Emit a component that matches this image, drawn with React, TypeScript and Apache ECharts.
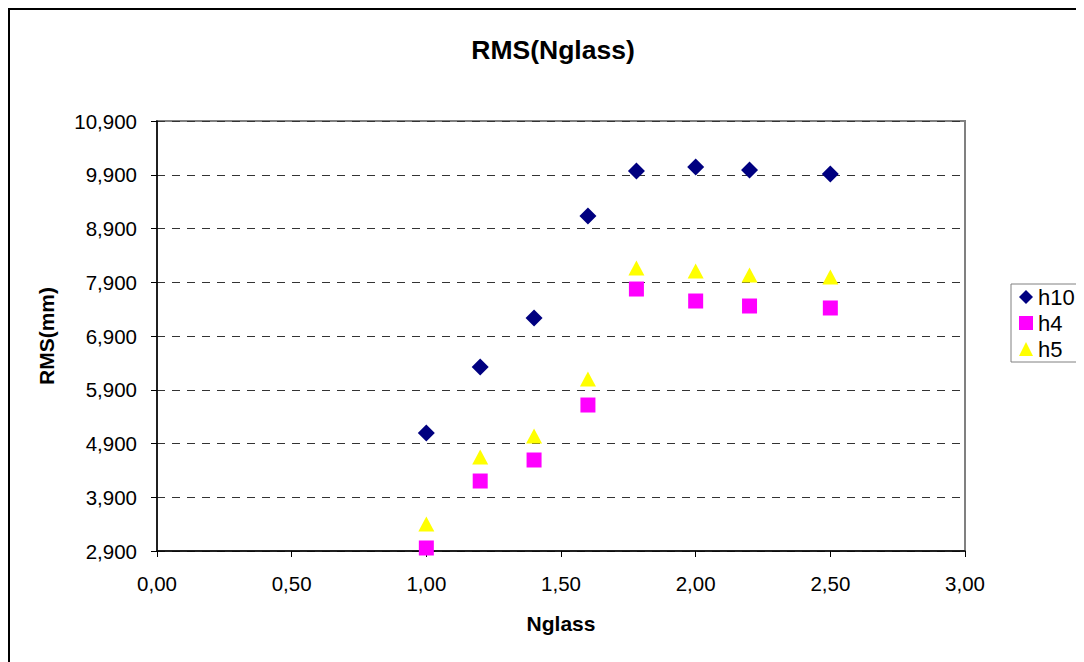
import React, { useEffect, useRef } from "react";
import * as echarts from "echarts";

const xValues = [1.0, 1.2, 1.4, 1.6, 1.78, 2.0, 2.2, 2.5];
const h10 = [5095, 6323, 7235, 9133, 9970, 10044, 9988, 9914];
const h4 = [2956, 4202, 4593, 5616, 7774, 7551, 7458, 7421];
const h5 = [3402, 4649, 5040, 6100, 8165, 8109, 8035, 7998];
const seriesNames = ["h10", "h4", "h5"];
const titleText = "RMS(Nglass)";
const xName = "Nglass";
const yName = "RMS(mm)";

const pair = (ys: number[]) => xValues.map((x, i) => [x, ys[i]]);

const fmtY = (v: number) => {
  const th = Math.floor(v / 1000);
  const rest = String(Math.round(v % 1000)).padStart(3, "0");
  return th > 0 ? `${th},${rest}` : String(Math.round(v));
};
const fmtX = (v: number) => v.toFixed(2).replace(".", ",");

export default function App() {
  const ref = useRef<HTMLDivElement>(null);
  useEffect(() => {
    if (!ref.current) return;
    const chart = echarts.init(ref.current, undefined, { renderer: "svg" });
    const font = "'Liberation Sans', Arial, sans-serif";
    chart.setOption({
      animation: false,
      backgroundColor: "#ffffff",
      textStyle: { fontFamily: font },
      title: {
        text: titleText,
        left: 540,
        top: 23,
        textAlign: "center",
        textStyle: { fontFamily: font, fontSize: 26.5, fontWeight: "bold", color: "#000" },
      },
      graphic: [
        {
          type: "polyline",
          shape: { points: [[1, 700], [1, 1], [1100, 1]] },
          style: { stroke: "#000", lineWidth: 2, fill: "none" },
          silent: true,
        },
      ],
      grid: {
        left: 149,
        top: 113,
        width: 808,
        height: 430,
        show: true,
        borderColor: "#808080",
        borderWidth: 2,
        backgroundColor: "transparent",
      },
      legend: {
        orient: "vertical",
        left: 1003,
        top: 276,
        padding: [2, 20, 2, 8],
        itemGap: 4,
        itemWidth: 14,
        itemHeight: 14,
        borderColor: "#808080",
        borderWidth: 1,
        backgroundColor: "#fff",
        textStyle: { fontFamily: font, fontSize: 22, color: "#000", lineHeight: 21 },
        data: seriesNames,
      },
      xAxis: {
        type: "value",
        min: 0,
        max: 3,
        interval: 0.5,
        name: xName,
        nameLocation: "middle",
        nameGap: 62,
        nameTextStyle: { fontFamily: font, fontSize: 21, fontWeight: "bold", color: "#000" },
        axisLine: { show: true, lineStyle: { color: "#000", width: 1.5 } },
        axisTick: { show: true, length: 6, lineStyle: { color: "#000" } },
        axisLabel: { formatter: fmtX, fontFamily: font, fontSize: 20.5, color: "#000", margin: 22 },
        splitLine: { show: false },
      },
      yAxis: {
        type: "value",
        min: 2900,
        max: 10900,
        interval: 1000,
        name: yName,
        nameLocation: "middle",
        nameGap: 100,
        nameTextStyle: { fontFamily: font, fontSize: 21, fontWeight: "bold", color: "#000" },
        axisLine: { show: true, lineStyle: { color: "#000", width: 1.5 } },
        axisTick: { show: true, length: 6, lineStyle: { color: "#000" } },
        axisLabel: { formatter: fmtY, fontFamily: font, fontSize: 20.5, color: "#000", margin: 20 },
        splitLine: { show: true, lineStyle: { color: "#333", type: [8, 7], width: 1.2 } },
      },
      series: [
        {
          name: seriesNames[0],
          type: "scatter",
          symbol: "diamond",
          symbolSize: [17, 17],
          itemStyle: { color: "#000080", opacity: 1 },
          data: pair(h10),
        },
        {
          name: seriesNames[1],
          type: "scatter",
          symbol: "rect",
          symbolSize: 15,
          itemStyle: { color: "#FF00FF", opacity: 1 },
          data: pair(h4),
        },
        {
          name: seriesNames[2],
          type: "scatter",
          symbol: "triangle",
          symbolSize: [16, 15],
          itemStyle: { color: "#FFFF00", opacity: 1 },
          data: pair(h5),
        },
      ],
    });
    return () => chart.dispose();
  }, []);
  return <div ref={ref} style={{ width: 1076, height: 654, overflow: "hidden" }} />;
}
